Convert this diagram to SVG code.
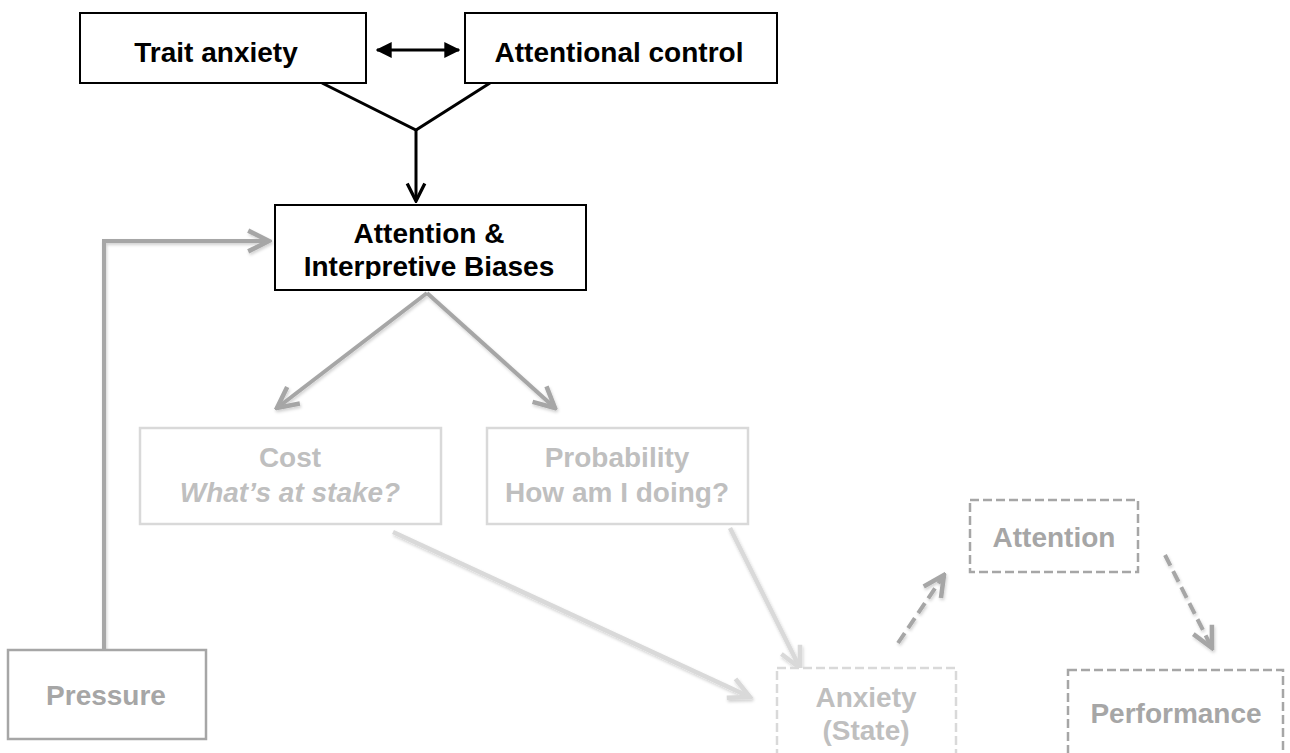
<svg xmlns="http://www.w3.org/2000/svg" width="1290" height="753" viewBox="0 0 1290 753">
<style>
text{font-family:"Liberation Sans",Arial,sans-serif;font-weight:bold;font-size:28px;text-anchor:middle}
.blk{fill:#fff;stroke:#000;stroke-width:2}
.t-blk{fill:#000}
.mid{fill:#fff;stroke:#a6a6a6;stroke-width:2.5}
.t-mid{fill:#a6a6a6}
.lt{fill:#fff;stroke:#d9d9d9;stroke-width:2.5}
.t-lt{fill:#bfbfbf}
.dash{stroke-dasharray:9 4}
.c-blk{fill:none;stroke:#000;stroke-width:3}
.c-mid{fill:none;stroke:#a6a6a6;stroke-width:4}
.c-lt{fill:none;stroke:#d9d9d9;stroke-width:4.5}
.c-dash{stroke-dasharray:12 6}
</style>
<defs>
<filter id="sh" x="-10%" y="-10%" width="120%" height="120%"><feDropShadow dx="1" dy="2" stdDeviation="1.5" flood-color="#000" flood-opacity="0.18"/></filter>
<marker id="ahB" viewBox="0 0 12 12" refX="11" refY="6" markerWidth="16" markerHeight="16" markerUnits="userSpaceOnUse" orient="auto-start-reverse"><path d="M0,0 L12,6 L0,12 Z" fill="#000"/></marker>
<marker id="avB" viewBox="0 0 20 20" refX="18" refY="10" markerWidth="22" markerHeight="22" markerUnits="userSpaceOnUse" orient="auto"><path d="M2,2 L18,10 L2,18" fill="none" stroke="#000" stroke-width="3"/></marker>
<marker id="avM" viewBox="0 0 20 20" refX="18" refY="10" markerWidth="26" markerHeight="26" markerUnits="userSpaceOnUse" orient="auto"><path d="M2,2 L18,10 L2,18" fill="none" stroke="#a6a6a6" stroke-width="3.5"/></marker>
<marker id="avL" viewBox="0 0 20 20" refX="18" refY="10" markerWidth="26" markerHeight="26" markerUnits="userSpaceOnUse" orient="auto"><path d="M2,2 L18,10 L2,18" fill="none" stroke="#d9d9d9" stroke-width="3.5"/></marker>
<clipPath id="clipAIB"><rect x="270" y="200" width="320" height="79"/></clipPath>
</defs>

<g id="connectors">
<line class="c-blk" x1="377" y1="50" x2="459" y2="50" marker-start="url(#ahB)" marker-end="url(#ahB)"/>
<polyline class="c-blk" points="322,83 416,130 490,83"/>
<line class="c-blk" x1="416" y1="130" x2="416" y2="201" marker-end="url(#avB)"/>
<g filter="url(#sh)">
<polyline class="c-mid" points="104,650 104,241 269,241" marker-end="url(#avM)"/>
<line class="c-mid" x1="427" y1="293" x2="277" y2="408" marker-end="url(#avM)"/>
<line class="c-mid" x1="427" y1="293" x2="555" y2="408" marker-end="url(#avM)"/>
<line class="c-lt" x1="393" y1="532" x2="750" y2="697" marker-end="url(#avL)"/>
<line class="c-lt" x1="730" y1="528" x2="800" y2="668" marker-end="url(#avL)"/>
<line class="c-mid c-dash" x1="898" y1="643" x2="944" y2="575" marker-end="url(#avM)"/>
<line class="c-mid c-dash" x1="1165" y1="555" x2="1212" y2="648" marker-end="url(#avM)"/>
</g>
</g>

<g id="trait-anxiety">
<rect class="blk" x="80" y="13" width="286" height="70"/>
<text class="t-blk" x="216" y="62" font-size="30">Trait anxiety</text>
</g>
<g id="attentional-control">
<rect class="blk" x="465" y="13" width="312" height="70"/>
<text class="t-blk" x="619" y="62" font-size="30">Attentional control</text>
</g>
<g id="attention-biases">
<rect class="blk" x="275" y="205" width="311" height="85"/>
<g clip-path="url(#clipAIB)">
<text class="t-blk" x="429" y="243" font-size="29">Attention &amp;</text>
<text class="t-blk" x="429" y="276" font-size="29">Interpretive Biases</text>
</g>
</g>
<g id="cost">
<rect class="lt" x="140" y="428" width="301" height="96"/>
<text class="t-lt" x="290" y="467">Cost</text>
<text class="t-lt" x="290" y="502" font-style="italic">What’s at stake?</text>
</g>
<g id="probability">
<rect class="lt" x="487" y="428" width="261" height="96"/>
<text class="t-lt" x="617" y="467">Probability</text>
<text class="t-lt" x="617" y="502">How am I doing?</text>
</g>
<g id="pressure">
<rect class="mid" x="8" y="650" width="198" height="89"/>
<text class="t-mid" x="106" y="705" font-size="29">Pressure</text>
</g>
<g id="attention">
<rect class="mid dash" x="970" y="500" width="168" height="72"/>
<text class="t-mid" x="1054" y="547" font-size="26">Attention</text>
</g>
<g id="anxiety-state">
<rect class="lt dash" x="777" y="668" width="179" height="100"/>
<text class="t-lt" x="866" y="707">Anxiety</text>
<text class="t-lt" x="866" y="740">(State)</text>
</g>
<g id="performance">
<rect class="mid dash" x="1068" y="670" width="215" height="100"/>
<text class="t-mid" x="1176" y="723" font-size="26">Performance</text>
</g>
</svg>
